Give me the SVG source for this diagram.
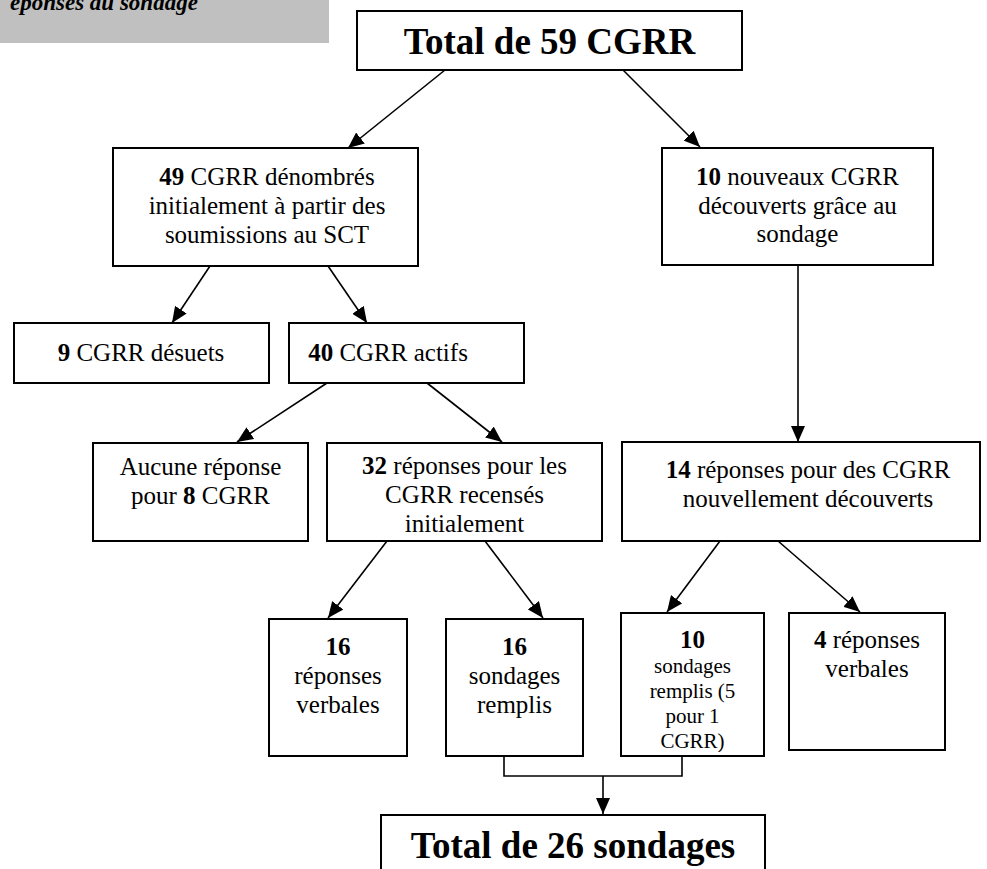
<svg xmlns="http://www.w3.org/2000/svg" width="987" height="869" viewBox="0 0 987 869">
<style>
.box{fill:#fff;stroke:#000;stroke-width:2}
.t{font-family:"Liberation Serif","Times New Roman",serif;font-size:25px;fill:#000;text-anchor:middle}
.s{font-size:21px}
.big{font-size:37px;font-weight:bold}
.b{font-weight:bold}
.c{fill:none;stroke:#000;stroke-width:1.6}
</style>
<defs>
<marker id="ah" markerUnits="userSpaceOnUse" markerWidth="16" markerHeight="14" refX="16" refY="7" orient="auto">
<path d="M0,0 L16,7 L0,14 z" fill="#000"/>
</marker>
<clipPath id="clip32"><rect x="327" y="443" width="275" height="94"/></clipPath>
<clipPath id="clip10s"><rect x="621" y="613" width="143" height="139"/></clipPath>
</defs>

<g id="caption">
<rect x="0" y="0" width="329" height="43" fill="#c0c0c0"/>
<text x="10" y="10" style="font-family:'Liberation Serif','Times New Roman',serif;font-size:23px;font-weight:bold;font-style:italic">éponses au sondage</text>
</g>

<g id="connectors">
<line class="c" x1="445" y1="70" x2="348" y2="148" marker-end="url(#ah)"/>
<line class="c" x1="623" y1="70" x2="700" y2="147" marker-end="url(#ah)"/>
<line class="c" x1="210" y1="266" x2="172" y2="323" marker-end="url(#ah)"/>
<line class="c" x1="328" y1="266" x2="367" y2="323" marker-end="url(#ah)"/>
<line class="c" x1="798" y1="265" x2="798" y2="442" marker-end="url(#ah)"/>
<line class="c" x1="327" y1="383" x2="237" y2="442" marker-end="url(#ah)"/>
<line class="c" x1="427" y1="383" x2="502" y2="442" marker-end="url(#ah)"/>
<line class="c" x1="387" y1="541" x2="328" y2="618" marker-end="url(#ah)"/>
<line class="c" x1="485" y1="541" x2="543" y2="618" marker-end="url(#ah)"/>
<line class="c" x1="720" y1="541" x2="667" y2="612" marker-end="url(#ah)"/>
<line class="c" x1="778" y1="541" x2="860" y2="612" marker-end="url(#ah)"/>
<polyline class="c" points="504,756 504,776 682,776 682,756"/>
<line class="c" x1="603" y1="776" x2="603" y2="814" marker-end="url(#ah)"/>
</g>

<g id="n-total59">
<rect class="box" x="357" y="11" width="385" height="59"/>
<text class="t big" x="549.5" y="54">Total de 59 CGRR</text>
</g>

<g id="n-49">
<rect class="box" x="113" y="148" width="305" height="118"/>
<text class="t" x="267" y="185"><tspan class="b">49</tspan> CGRR dénombrés</text>
<text class="t" x="267" y="214">initialement à partir des</text>
<text class="t" x="267" y="243">soumissions au SCT</text>
</g>

<g id="n-10new">
<rect class="box" x="662" y="148" width="271" height="117"/>
<text class="t" x="797.5" y="185"><tspan class="b">10</tspan> nouveaux CGRR</text>
<text class="t" x="797.5" y="214">découverts grâce au</text>
<text class="t" x="797.5" y="242">sondage</text>
</g>

<g id="n-9">
<rect class="box" x="14" y="323" width="255" height="60"/>
<text class="t" x="141" y="361"><tspan class="b">9</tspan> CGRR désuets</text>
</g>

<g id="n-40">
<rect class="box" x="289" y="323" width="235" height="60"/>
<text class="t" x="388" y="361"><tspan class="b">40</tspan> CGRR actifs</text>
</g>

<g id="n-aucune">
<rect class="box" x="93" y="443" width="215" height="98"/>
<text class="t" x="200.5" y="475">Aucune réponse</text>
<text class="t" x="200.5" y="504">pour <tspan class="b">8</tspan> CGRR</text>
</g>

<g id="n-32">
<rect class="box" x="327" y="443" width="275" height="98"/>
<g clip-path="url(#clip32)">
<text class="t" x="464.5" y="474"><tspan class="b">32</tspan> réponses pour les</text>
<text class="t" x="464.5" y="503">CGRR recensés</text>
<text class="t" x="464.5" y="532">initialement</text>
</g>
</g>

<g id="n-14">
<rect class="box" x="622" y="442" width="358" height="99"/>
<text class="t" x="808" y="478"><tspan class="b">14</tspan> réponses pour des CGRR</text>
<text class="t" x="808" y="507">nouvellement découverts</text>
</g>

<g id="n-16v">
<rect class="box" x="269" y="619" width="138" height="137"/>
<text class="t b" x="338" y="655">16</text>
<text class="t" x="338" y="684">réponses</text>
<text class="t" x="338" y="713">verbales</text>
</g>

<g id="n-16s">
<rect class="box" x="446" y="619" width="137" height="137"/>
<text class="t b" x="514.5" y="655">16</text>
<text class="t" x="514.5" y="684">sondages</text>
<text class="t" x="514.5" y="713">remplis</text>
</g>

<g id="n-10s">
<rect class="box" x="621" y="613" width="143" height="143"/>
<g clip-path="url(#clip10s)">
<text class="t b" x="692.5" y="648">10</text>
<text class="t s" x="692.5" y="673">sondages</text>
<text class="t s" x="692.5" y="698">remplis (5</text>
<text class="t s" x="692.5" y="723">pour 1</text>
<text class="t s" x="692.5" y="748">CGRR)</text>
</g>
</g>

<g id="n-4">
<rect class="box" x="789" y="613" width="156" height="137"/>
<text class="t" x="867" y="648"><tspan class="b">4</tspan> réponses</text>
<text class="t" x="867" y="677">verbales</text>
</g>

<g id="n-total26">
<rect class="box" x="381" y="815" width="384" height="70"/>
<text class="t big" x="573" y="858">Total de 26 sondages</text>
</g>
</svg>
